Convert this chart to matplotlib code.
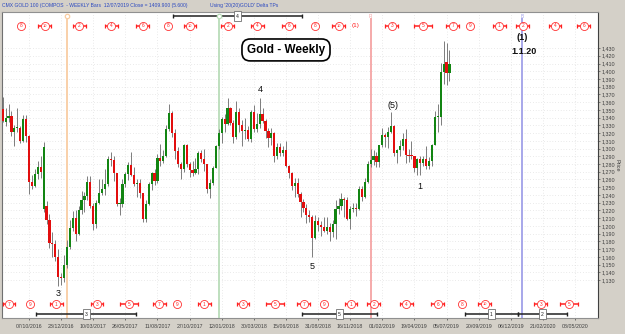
import matplotlib
matplotlib.use("Agg")
import matplotlib.pyplot as plt
import matplotlib.dates as mdates
from matplotlib.ticker import FixedLocator, FuncFormatter
import numpy as np
import pandas as pd

plt.rcParams['font.family'] = ['Liberation Sans', 'DejaVu Sans']

# weekly bars, week ending friday
week_end = pd.date_range('2016-08-05', periods=154, freq='W-FRI')

opens = [1351, 1334, 1340, 1342, 1322, 1327, 1327, 1310, 1338, 1316, 1257, 1251, 1267, 1276,
         1222, 1226, 1207, 1178, 1177, 1160, 1134, 1132,
         1150, 1173, 1197, 1210, 1190, 1220, 1234, 1239, 1257, 1226, 1202, 1229, 1243, 1248,
         1254, 1286, 1285, 1268, 1228, 1228, 1254, 1267, 1279, 1266, 1254, 1256, 1242, 1209,
         1228, 1254, 1268, 1258, 1288, 1284, 1291, 1325, 1346, 1320, 1297, 1280, 1274, 1304,
         1280, 1272, 1269, 1274, 1294, 1287, 1280, 1248, 1256, 1275,
         1303, 1320, 1338, 1332, 1352, 1333, 1315, 1347, 1330, 1323, 1324, 1313, 1347, 1325,
         1332, 1345, 1336, 1323, 1314, 1320, 1291, 1302, 1294, 1298, 1278, 1268, 1252, 1255,
         1241, 1231, 1223, 1214, 1212, 1184, 1206, 1201, 1198, 1194, 1199, 1192, 1203, 1222,
         1226, 1235, 1233, 1209, 1222, 1223, 1222, 1248, 1238, 1257,
         1280, 1285, 1290, 1282, 1304, 1318, 1315, 1322, 1329, 1294, 1298, 1303, 1313, 1292,
         1291, 1290, 1275, 1286, 1281, 1286, 1277, 1284, 1305, 1341, 1341, 1399, 1412, 1398]
highs = [1367, 1353, 1358, 1349, 1330, 1352, 1329, 1344, 1343, 1318, 1266, 1273, 1284, 1290,
         1308, 1232, 1215, 1192, 1182, 1170, 1139, 1162,
         1182, 1207, 1219, 1220, 1226, 1245, 1244, 1264, 1264, 1229, 1233, 1261, 1260, 1274,
         1290, 1295, 1290, 1269, 1236, 1260, 1270, 1283, 1296, 1276, 1260, 1260, 1243, 1234,
         1257, 1270, 1274, 1293, 1306, 1298, 1331, 1357, 1349, 1325, 1302, 1282, 1306, 1306,
         1283, 1284, 1288, 1297, 1298, 1299, 1280, 1261, 1277, 1305,
         1325, 1341, 1345, 1366, 1354, 1337, 1361, 1352, 1337, 1340, 1329, 1350, 1356, 1346,
         1365, 1353, 1338, 1326, 1326, 1321, 1307, 1307, 1303, 1310, 1279, 1270, 1262, 1262,
         1244, 1235, 1228, 1220, 1214, 1214, 1212, 1206, 1212, 1211, 1204, 1208, 1233, 1236,
         1243, 1238, 1237, 1226, 1230, 1229, 1251, 1251, 1262, 1284,
         1299, 1298, 1295, 1305, 1326, 1320, 1328, 1347, 1330, 1300, 1311, 1320, 1325, 1300,
         1310, 1291, 1288, 1290, 1291, 1303, 1289, 1306, 1348, 1358, 1411, 1439, 1437, 1427]
lows = [1335, 1329, 1334, 1316, 1303, 1322, 1307, 1308, 1308, 1241, 1248, 1250, 1260, 1262,
        1218, 1203, 1172, 1160, 1155, 1122, 1124, 1128,
        1146, 1170, 1194, 1180, 1188, 1215, 1218, 1234, 1223, 1195, 1197, 1228, 1240, 1240,
        1252, 1278, 1258, 1226, 1214, 1225, 1250, 1259, 1265, 1251, 1237, 1236, 1205, 1205,
        1227, 1246, 1253, 1255, 1278, 1281, 1289, 1323, 1315, 1287, 1276, 1261, 1270, 1276,
        1263, 1264, 1267, 1267, 1283, 1271, 1243, 1236, 1253, 1275,
        1300, 1307, 1322, 1330, 1331, 1307, 1313, 1322, 1303, 1313, 1310, 1308, 1322, 1322,
        1326, 1333, 1314, 1302, 1304, 1283, 1286, 1290, 1290, 1276, 1262, 1246, 1238, 1237,
        1211, 1218, 1204, 1205, 1160, 1183, 1194, 1187, 1192, 1189, 1180, 1185, 1183, 1216,
        1221, 1212, 1207, 1196, 1218, 1213, 1221, 1232, 1236, 1256,
        1276, 1279, 1276, 1276, 1302, 1302, 1301, 1320, 1290, 1281, 1291, 1298, 1281, 1282,
        1287, 1270, 1266, 1266, 1278, 1274, 1273, 1278, 1304, 1322, 1331, 1384, 1382, 1387]
closes = [1336, 1340, 1342, 1322, 1327, 1328, 1310, 1338, 1316, 1257, 1251, 1267, 1276, 1270,
          1302, 1207, 1178, 1177, 1160, 1134, 1132, 1150,
          1173, 1197, 1210, 1190, 1220, 1234, 1239, 1257, 1226, 1202, 1229, 1243, 1248, 1254,
          1286, 1285, 1268, 1228, 1228, 1254, 1267, 1279, 1266, 1254, 1256, 1242, 1209, 1228,
          1254, 1268, 1258, 1288, 1284, 1291, 1325, 1346, 1320, 1297, 1280, 1274, 1304, 1280,
          1272, 1269, 1274, 1294, 1287, 1280, 1248, 1256, 1275, 1303,
          1320, 1338, 1332, 1352, 1333, 1315, 1347, 1330, 1323, 1324, 1313, 1347, 1325, 1332,
          1345, 1336, 1323, 1314, 1320, 1291, 1302, 1294, 1298, 1278, 1268, 1252, 1255, 1241,
          1231, 1223, 1214, 1212, 1184, 1206, 1201, 1198, 1194, 1199, 1192, 1203, 1222, 1226,
          1235, 1233, 1209, 1222, 1223, 1222, 1248, 1238, 1257, 1280,
          1285, 1290, 1282, 1304, 1318, 1315, 1322, 1329, 1294, 1298, 1303, 1313, 1292, 1291,
          1290, 1275, 1286, 1281, 1286, 1277, 1284, 1305, 1341, 1341, 1399, 1409, 1398, 1410]

# price scale and date ticks
price_ticks = list(range(1130, 1431, 10))
date_ticks = pd.date_range('2016-07-22', '2020-05-08', freq='77D')

# cycle markers, positions given as days from 07/10/2016
ref_day = pd.Timestamp('2016-10-07')
top_days = [-20, 38, 120, 197, 273, 333, 386, 477, 547, 623, 686, 743, 782,
            870, 945, 1016, 1057, 1127, 1184, 1261, 1330]
top_labels = ['8', '10', '2', '4', '6', '8', '10', '2', '4', '6', '8', '10', '(1)',
              '3', '5', '7', '9', '1', '2', '4', '6']
top_bars = [0, 1, 1, 1, 1, 0, 1, 1, 1, 1, 0, 1, -1, 1, 2, 1, 0, 1, 1, 1, 1]
bottom_days = [-48, 2, 65, 163, 240, 312, 355, 420, 513, 590, 659, 707, 772, 827,
               904, 980, 1038, 1093, 1227, 1294]
bottom_labels = ['7', '9', '1', '3', '5', '7', '9', '1', '3', '5', '7', '9', '1', '2',
                 '4', '6', '8', '10', '3', '5']
bottom_bars = [1, 0, 1, 1, 2, 1, 0, 1, 1, 2, 1, 0, 1, 1, 1, 1, 0, 1, 1, 2]

# yearly cycle lines
cycle_dates = ['2017-01-06', '2018-01-05', '2019-01-04', '2020-01-03']
cycle_colors = ['#f9cda2', '#b9dcb9', '#f4a4a4', '#a0a0e8']
cycle_tags = ['o', 'o', 'R', 'B']

# black span bars (start day, end day, label, row)
span_start = [345, 17, 655, 1045, 1172]
span_end = [655, 257, 834, 1172, 1290]
span_label = ['4', '3', '5', '1', '2']
span_row = ['top', 'bottom', 'bottom', 'bottom', 'bottom']

# wave counts (days from ref, price, text)
wave_days = [70, 554, 678, 873, 937]
wave_price = [1113, 1377, 1147, 1356, 1251]
wave_text = ['3', '4', '5', '(5)', '1']


def day_num(days):
    return mdates.date2num(ref_day + pd.to_timedelta(np.asarray(days), unit='D'))


fig = plt.figure(figsize=(6.25, 3.34), dpi=100, facecolor='#d4d0c8')
ax = fig.add_axes([2 / 625, 16 / 334, 596 / 625, 306 / 334])
ax.set_facecolor('white')

x = mdates.date2num(week_end)
o = np.array(opens, float)
h = np.array(highs, float)
l = np.array(lows, float)
c = np.array(closes, float)
up = c >= o
body_lo = np.minimum(o, c)
body_h = np.maximum(np.abs(c - o), 1.2)

ax.vlines(x, l, h, color='#7c7c7c', lw=0.7, zorder=2)
ax.bar(x[up], body_h[up], 5.2, bottom=body_lo[up], color='#128512', lw=0, zorder=3)
ax.bar(x[~up], body_h[~up], 5.2, bottom=body_lo[~up], color='#e20e0e', lw=0, zorder=3)

ymin, ymax = 1080.9, 1476.6
top_row, bottom_row = 1458.5, 1099.0
top_bar_y, bottom_bar_y = 1471.4, 1086.0

# yearly cycle lines with tags
for d, col, tag in zip(cycle_dates, cycle_colors, cycle_tags):
    xd = mdates.date2num(pd.Timestamp(d))
    ax.vlines(xd, ymin, 1469, color=col, lw=1.3, zorder=1)
    if tag == 'o':
        ax.plot(xd, top_bar_y, 'o', ms=3.2, mfc='white', mec=col, mew=0.9, zorder=6)
    else:
        ax.text(xd, top_bar_y, tag, fontsize=3.4, color=col, ha='center', va='center', zorder=6)

# black span bars
for s, e, lab, row in zip(span_start, span_end, span_label, span_row):
    yb = top_bar_y if row == 'top' else bottom_bar_y
    xs, xe = day_num([s, e])
    ax.hlines(yb, xs, xe, color='#202020', lw=1.1, zorder=4)
    ax.vlines([xs, xe], yb - 3, yb + 3, color='#202020', lw=1.0, zorder=4)
    ax.text((xs + xe) / 2, yb, lab, fontsize=3.6, ha='center', va='center', color='#202020', zorder=7,
            bbox=dict(boxstyle='square,pad=0.45', fc='white', ec='#707070', lw=0.6))


def cycle_row(days, labels, bars, yrow):
    xs = day_num(days)
    for xd, lab, b in zip(xs, labels, bars):
        if b == -1:
            ax.text(xd, yrow, lab, fontsize=4.6, color='#ff2020', ha='center', va='center')
            continue
        if b > 0:
            w = 15.5 if b == 1 else 21
            ax.hlines(yrow, xd - w, xd + w, color='#ff2020', lw=1.1, zorder=4)
            ax.vlines([xd - w, xd + w], yrow - 3, yrow + 3, color='#ff2020', lw=0.9, zorder=4)
        ax.plot(xd, yrow, 'o', ms=5.8, mfc='white', mec='#ff3030', mew=0.6, zorder=5)
        ax.text(xd, yrow, lab, fontsize=3.4 if len(lab) < 2 else 2.9, color='#ff2020',
                ha='center', va='center', zorder=6)


cycle_row(top_days, top_labels, top_bars, top_row)
cycle_row(bottom_days, bottom_labels, bottom_bars, bottom_row)

# wave labels
for d, p, t in zip(wave_days, wave_price, wave_text):
    ax.text(day_num([d])[0], p, t, fontsize=6.5, color='#101010', ha='center', va='center')
ax.text(day_num([1182])[0], 1444, '(1)', fontsize=6.5, fontweight='bold', color='#101010',
        ha='center', va='center')
ax.text(day_num([1187])[0], 1425, '1.1.20', fontsize=6.5, fontweight='bold', color='#101010',
        ha='center', va='center')

ax.text(0.4765, 0.876, 'Gold - Weekly', transform=ax.transAxes, fontsize=8.5, fontweight='bold',
        ha='center', va='center', zorder=8,
        bbox=dict(boxstyle='round,pad=0.42,rounding_size=0.7', fc='white', ec='black', lw=1.2))

# axes
d0 = mdates.date2num(ref_day)
ax.set_xlim(d0 - 64.7, d0 + 1364.1)
ax.set_ylim(ymin, ymax)

ax.yaxis.tick_right()
ax.yaxis.set_major_locator(FixedLocator(price_ticks))
ax.yaxis.set_major_formatter(FuncFormatter(lambda v, p: f'{v:,.0f}'))
ax.yaxis.set_label_position('right')
ax.set_ylabel('Price', rotation=270, fontsize=4, color='#404040', labelpad=3)

ax.xaxis.set_major_locator(FixedLocator(mdates.date2num(date_ticks)))
ax.xaxis.set_major_formatter(mdates.DateFormatter('%d/%m/%Y'))
ax.tick_params(axis='y', labelsize=3.9, colors='#505050', length=1.5, width=0.5, pad=1)
ax.tick_params(axis='x', labelsize=3.8, colors='#404040', length=1.5, width=0.5, pad=2.5)
for lab in ax.get_xticklabels() + ax.get_yticklabels():
    lab.set_color('#404040')

ax.grid(True, color='#d6d6d6', linestyle=(0, (1, 3)), lw=0.5, zorder=0)
ax.set_axisbelow(True)

for side, col in [('left', '#707070'), ('right', '#404040'), ('top', '#909090'), ('bottom', '#909090')]:
    ax.spines[side].set_color(col)
    ax.spines[side].set_linewidth(0.8)

# header
fig.text(2 / 625, 1 - 5 / 334, 'CMX GOLD 100 (COMPOS  - WEEKLY Bars  12/07/2019 Close = 1409.900 (5.600)',
         fontsize=3.6, color='#2a48c0', va='center', ha='left')
fig.text(210 / 625, 1 - 5 / 334, "Using '20(20)GOLD' Delta TPs", fontsize=3.6, color='#2a48c0',
         va='center', ha='left')

fig.savefig('out.png', dpi=100, facecolor=fig.get_facecolor())
